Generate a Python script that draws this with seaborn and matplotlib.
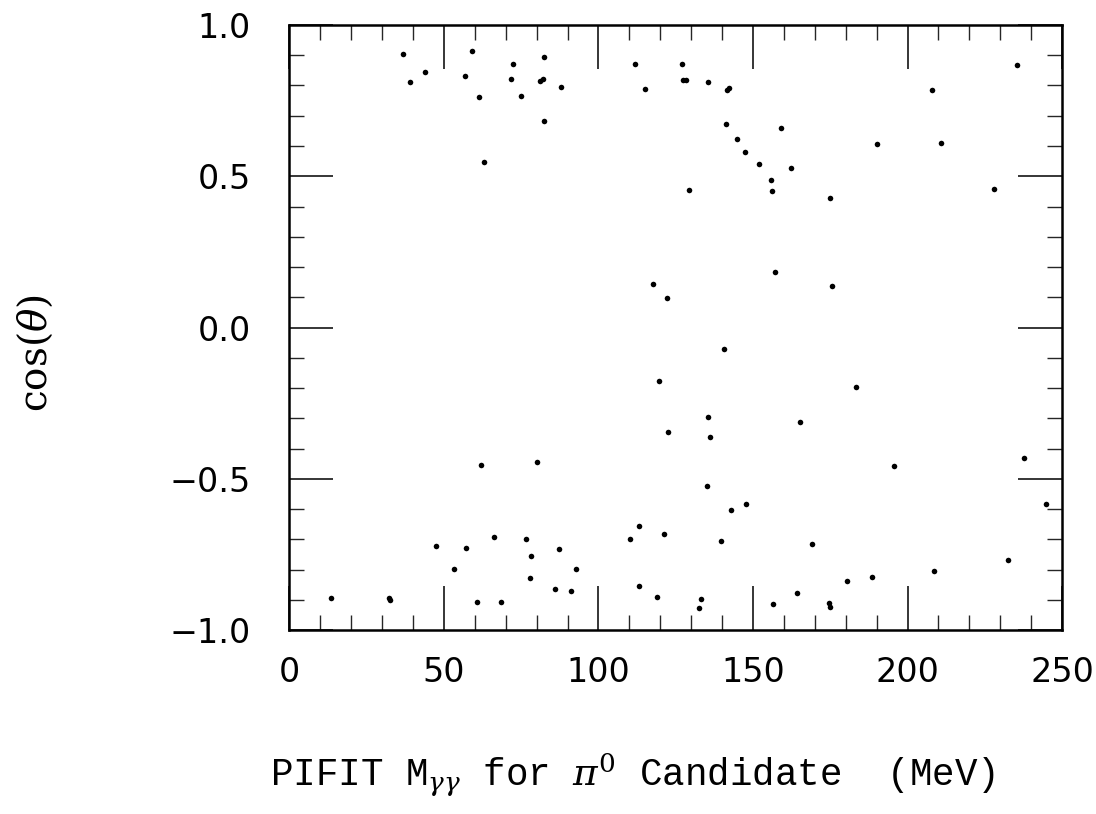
import numpy as np
import pandas as pd
import matplotlib
matplotlib.use("Agg")
import matplotlib.pyplot as plt
import seaborn as sns
from matplotlib.ticker import MultipleLocator

# Candidate di-photon mass (MeV) and decay angle cos(theta)
mass_upper = [36.8, 39.1, 43.9, 59.2, 56.7, 61.3, 63.0, 72.2, 71.6, 74.9,
              82.3, 81.2, 82.0, 82.3, 88.0, 111.9, 114.9, 117.6, 122.3,
              127.1, 127.5, 128.3, 135.4, 141.6, 142.2, 141.2, 144.8, 147.5,
              151.8, 155.7, 156.1, 159.1, 162.3, 129.2, 174.9, 190.1, 207.8,
              210.7, 227.9, 235.5, 157.2, 175.7]
cos_upper = [0.903, 0.812, 0.844, 0.913, 0.832, 0.762, 0.546, 0.870, 0.821, 0.766,
             0.895, 0.815, 0.820, 0.682, 0.794, 0.872, 0.787, 0.145, 0.097,
             0.871, 0.817, 0.818, 0.812, 0.785, 0.793, 0.673, 0.622, 0.580,
             0.539, 0.486, 0.450, 0.659, 0.526, 0.456, 0.427, 0.608, 0.784,
             0.609, 0.458, 0.867, 0.182, 0.136]

mass_lower = [13.4, 32.2, 32.4, 47.3, 53.1, 57.2, 60.6, 62.1, 66.1, 68.6,
              76.4, 78.3, 77.8, 80.1, 85.9, 87.1, 91.2, 92.7, 110.3, 113.2,
              113.0, 119.7, 122.6, 121.2, 118.9, 140.7, 135.4, 136.1, 135.1,
              142.9, 147.7, 139.5, 133.1, 132.4, 156.5, 164.3, 165.2, 169.1,
              174.7, 175.0, 180.4, 183.2, 188.5, 195.7, 208.5, 232.4, 237.6,
              244.8]
cos_lower = [-0.893, -0.893, -0.900, -0.722, -0.798, -0.729, -0.908, -0.454, -0.693, -0.906,
             -0.700, -0.756, -0.829, -0.446, -0.866, -0.731, -0.871, -0.799, -0.698, -0.656,
             -0.853, -0.178, -0.345, -0.681, -0.892, -0.071, -0.296, -0.362, -0.523,
             -0.602, -0.582, -0.705, -0.898, -0.926, -0.913, -0.878, -0.313, -0.716,
             -0.910, -0.925, -0.837, -0.196, -0.825, -0.458, -0.804, -0.769, -0.432,
             -0.582]

x_ticks = [0, 50, 100, 150, 200, 250]
y_ticks = [-1.0, -0.5, 0.0, 0.5, 1.0]

df = pd.DataFrame({
    "mass": mass_upper + mass_lower,
    "costheta": cos_upper + cos_lower,
})

sns.set_style("ticks")
plt.rcParams["font.family"] = ["DejaVu Sans"]
plt.rcParams["text.color"] = "black"
plt.rcParams["mathtext.fontset"] = "custom"
plt.rcParams["mathtext.rm"] = "DejaVu Serif"
plt.rcParams["mathtext.it"] = "DejaVu Serif:italic"

fig = plt.figure(figsize=(10.96, 8.14), dpi=100)
ax = fig.add_axes([0.2641, 0.2260, 0.7049, 0.7433])

sns.scatterplot(data=df, x="mass", y="costheta", ax=ax, color="black",
                s=16, linewidth=0, legend=False)

ax.set_xlim(0, 250)
ax.set_ylim(-1.0, 1.0)
ax.set_xticks(x_ticks)
ax.set_yticks(y_ticks)
ax.set_xticklabels([f"{v:g}" for v in x_ticks])
ax.set_yticklabels([f"{v:.1f}".replace("-", "\u2212") for v in y_ticks])
ax.xaxis.set_minor_locator(MultipleLocator(10))
ax.yaxis.set_minor_locator(MultipleLocator(0.1))

ax.tick_params(which="major", direction="in", length=32, width=1.1,
               top=True, right=True, labelsize=24, colors="black")
ax.tick_params(axis="x", which="major", pad=19)
ax.tick_params(axis="y", which="major", pad=28)
ax.tick_params(which="minor", direction="in", length=11, width=1.0,
               top=True, right=True)
for sp in ax.spines.values():
    sp.set_linewidth(1.8)
    sp.set_color("black")

ax.set_xlabel("")
ax.set_ylabel("")

fig.text(0.032, 0.566, r"cos($\theta$)", rotation=90, ha="center",
         va="center", fontsize=28, family="DejaVu Serif", color="black")
fig.text(0.577, 0.048,
         r"PIFIT M$_{\gamma\gamma}$ for $\pi^0$ Candidate  (MeV)",
         ha="center", va="center", fontsize=27, family="Liberation Mono",
         color="black")

fig.savefig("out.png", dpi=100)
